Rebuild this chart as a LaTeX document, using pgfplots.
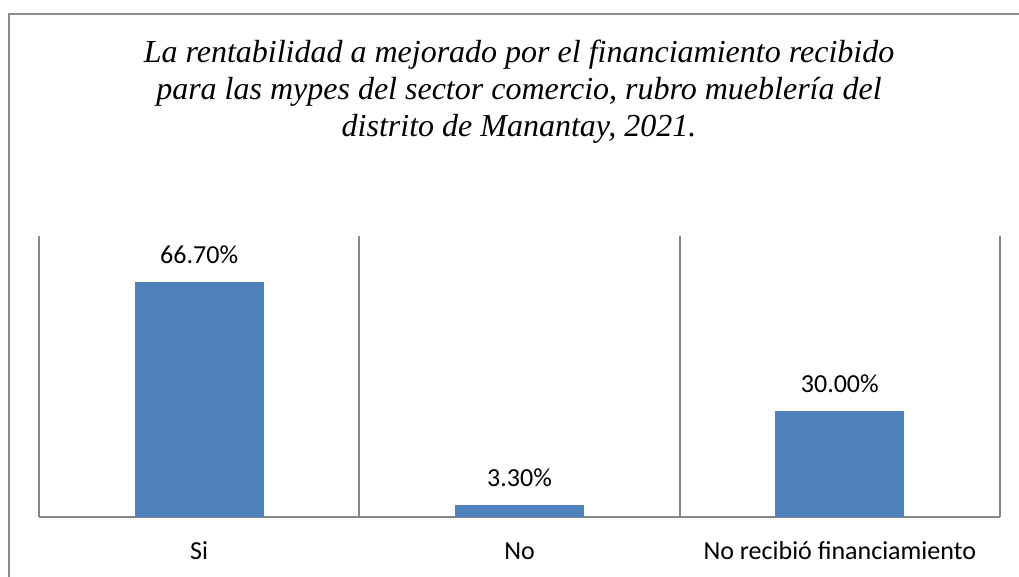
\documentclass[border=0pt]{standalone}
\usepackage{pgfplots}
\pgfplotsset{compat=1.18}
\usepackage{fontspec}
\setmainfont{Carlito}
\newfontfamily\titlefont{Liberation Serif}
\definecolor{barblue}{HTML}{4F81BD}
\definecolor{gridgray}{HTML}{868686}
\definecolor{framegray}{HTML}{8C8C8C}

\begin{document}
\begin{tikzpicture}
\useasboundingbox (0,0) rectangle (509.5pt,288.5pt);
% outer chart frame (cut by the image edge on the right and bottom)
\draw[framegray, line width=0.9pt] (4.5pt,-5pt) -- (4.5pt,281.5pt) -- (520pt,281.5pt);

% title
\node[anchor=base, inner sep=0pt] at (259.5pt,257pt) {\titlefont\itshape\fontsize{16}{18}\selectfont La rentabilidad a mejorado por el financiamiento recibido};
\node[anchor=base, inner sep=0pt] at (259.5pt,238.5pt) {\titlefont\itshape\fontsize{16}{18}\selectfont para las mypes del sector comercio, rubro mueblería del};
\node[anchor=base, inner sep=0pt] at (259.5pt,220pt) {\titlefont\itshape\fontsize{16}{18}\selectfont distrito de Manantay, 2021.};

\begin{axis}[
    at={(19.5pt,30pt)}, anchor=south west,
    scale only axis, width=480.5pt, height=140.5pt,
    xmin=-0.5, xmax=2.5, ymin=0, ymax=80,
    axis line style={draw=none},
    ytick=\empty,
    xtick={0,1,2},
    xticklabels={Si, No, No recibió financiamiento},
    major tick length=0pt,
    xticklabel style={anchor=base, yshift=-21.5pt, font=\fontsize{13}{15}\selectfont},
    extra x ticks={-0.5,0.5,1.5,2.5},
    extra x tick labels={},
    extra x tick style={grid=major, major grid style={gridgray, line width=0.9pt}},
    extra y ticks={0},
    extra y tick labels={},
    extra y tick style={grid=major, major grid style={gridgray, line width=0.9pt}},
    /pgf/number format/assume math mode=true,
    ybar, bar width=0.4,
    nodes near coords={\pgfmathprintnumber[fixed, fixed zerofill, precision=2]{\pgfplotspointmeta}\%},
    nodes near coords style={anchor=base, yshift=9.5pt, inner sep=0pt, font=\fontsize{13}{15}\selectfont, text=black},
  ]
\addplot[fill=barblue, draw=barblue] coordinates {(0,66.7) (1,3.3) (2,30.0)};
\end{axis}
\end{tikzpicture}
\end{document}
